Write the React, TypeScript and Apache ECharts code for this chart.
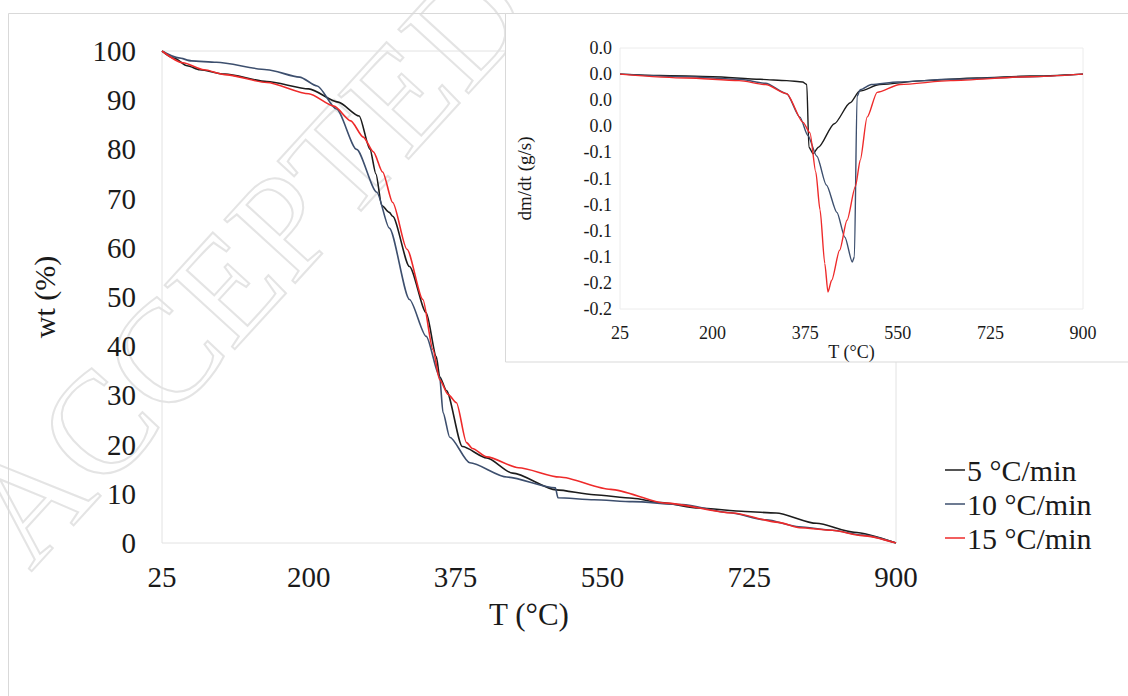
import React, { useEffect, useRef } from "react";
import * as echarts from "echarts";

// ---------- Data ----------
const X_TICKS = [25, 200, 375, 550, 725, 900];
const Y_TICKS = [0, 10, 20, 30, 40, 50, 60, 70, 80, 90, 100];
const INSET_Y_TICKS = [-0.18, -0.16, -0.14, -0.12, -0.1, -0.08, -0.06, -0.04, -0.02, 0, 0.02];

const SERIES_NAMES = ["5 °C/min", "10 °C/min", "15 °C/min"];

// TGA (wt %)
const T5 = [25, 40, 55, 70, 100, 150, 200, 235, 260, 273, 280, 287, 296, 300, 320, 340, 352, 356, 364, 383, 412, 443, 495, 540, 586, 620, 665, 720, 757, 805, 850, 900];
const W5 = [100, 98.5, 97, 96.2, 95.3, 93.8, 92.3, 89.6, 86.8, 80, 75, 68.6, 67.2, 66.4, 56.2, 46.8, 37.9, 33.8, 31, 19.6, 17.3, 14.2, 10.8, 9.8, 9.1, 8.2, 7.1, 6.4, 6.1, 4.0, 2.2, 0];

const T10 = [25, 45, 60, 90, 150, 189, 210, 233, 257, 281, 296, 320, 340, 356, 360, 368, 392, 436, 494, 497, 540, 586, 645, 700, 745, 784, 824, 860, 900];
const W10 = [100, 98.6, 98, 97.7, 96.2, 94.7, 92.9, 88.2, 80, 71.3, 64, 49.5, 42, 33.8, 26.5, 21.5, 16.3, 13.4, 11.2, 9.2, 8.8, 8.4, 7.8, 6.2, 4.7, 3.3, 2.6, 1.6, 0];

const T15 = [25, 50, 75, 100, 150, 200, 230, 250, 265, 277, 288, 300, 317, 336, 348, 356, 366, 376, 388, 395, 412, 450, 499, 560, 626, 705, 760, 785, 824, 860, 900];
const W15 = [100, 97.6, 96.2, 95.2, 93.6, 91.3, 88.8, 85.8, 82.5, 79.5, 75.4, 69.2, 59.7, 49.5, 39.3, 33.2, 30.2, 28.5, 20.4, 19.2, 17.5, 15.3, 13.4, 10.9, 8.1, 6.1, 4.2, 3.1, 2.6, 1.5, 0];

// DTG (dm/dt, g/s)
const DT5 = [25, 100, 200, 290, 340, 370, 378, 382, 390, 400, 430, 460, 478, 516, 600, 700, 800, 900];
const DV5 = [0, -0.001, -0.002, -0.004, -0.005, -0.006, -0.008, -0.056, -0.061, -0.056, -0.038, -0.022, -0.013, -0.008, -0.005, -0.003, -0.0015, 0];

const DT10 = [25, 150, 250, 300, 340, 365, 380, 397, 415, 435, 450, 464, 468, 473, 479, 500, 550, 650, 800, 900];
const DV10 = [0, -0.002, -0.004, -0.007, -0.015, -0.033, -0.047, -0.063, -0.085, -0.106, -0.125, -0.144, -0.14, -0.017, -0.012, -0.008, -0.006, -0.004, -0.002, 0];

const DT15 = [25, 150, 250, 300, 340, 371, 384, 395, 403, 412, 418, 425, 440, 454, 470, 479, 492, 511, 554, 650, 800, 900];
const DV15 = [0, -0.003, -0.005, -0.008, -0.015, -0.037, -0.045, -0.075, -0.104, -0.145, -0.167, -0.158, -0.135, -0.112, -0.086, -0.066, -0.033, -0.014, -0.008, -0.005, -0.002, 0];

const COLORS = ["#1c1c1c", "#3d4f6e", "#ee2a2a"];
const FONT = "Liberation Serif";

const pairs = (xs: number[], ys: number[]) => xs.map((x, i) => [x, ys[i]]);

function fmtInset(v: number) {
  let s = v.toFixed(1);
  if (s === "-0.0") s = "0.0";
  return s;
}

export default function App() {
  const ref = useRef<HTMLDivElement>(null);

  useEffect(() => {
    document.body.style.margin = "0";
    const chart = echarts.init(ref.current!, null, { renderer: "svg" });

    const mainLine = (name: string, data: number[][], color: string) => ({
      name,
      type: "line",
      xAxisIndex: 0,
      yAxisIndex: 0,
      data,
      showSymbol: false,
      smooth: 0.25,
      smoothMonotone: "x",
      lineStyle: { color, width: 1.6 },
      itemStyle: { color },
      z: 2,
    });
    const insetLine = (name: string, data: number[][], color: string) => ({
      name,
      type: "line",
      xAxisIndex: 1,
      yAxisIndex: 1,
      data,
      showSymbol: false,
      smooth: 0.25,
      smoothMonotone: "x",
      lineStyle: { color, width: 1.4 },
      itemStyle: { color },
      z: 5,
    });

    const option: any = {
      animation: false,
      backgroundColor: "#ffffff",
      textStyle: { fontFamily: FONT },
      graphic: [
        {
          type: "text",
          x: 48,
          y: 588,
          rotation: 0.83,
          z: -1,
          silent: true,
          style: {
            text: "ACCEPTED",
            font: "145px 'Liberation Serif'",
            fill: "rgba(0,0,0,0)",
            stroke: "#e4e4e4",
            lineWidth: 2,
            textVerticalAlign: "bottom",
          },
        },
        {
          type: "rect",
          z: 0,
          silent: true,
          shape: { x: 8.5, y: 13.5, width: 1140, height: 720 },
          style: { fill: "none", stroke: "#d9d9d9", lineWidth: 1 },
        },
        {
          type: "rect",
          z: 2,
          silent: true,
          shape: { x: 505.5, y: 13.5, width: 660, height: 348.5 },
          style: { fill: "#ffffff", stroke: "#d9d9d9", lineWidth: 1 },
        },
      ],
      legend: {
        data: SERIES_NAMES,
        orient: "vertical",
        left: 940,
        top: 450,
        icon: "rect",
        itemWidth: 20,
        itemHeight: 1.5,
        itemGap: 4,
        textStyle: { fontFamily: FONT, fontSize: 30, color: "#1a1a1a", padding: [0, 0, 0, -3] },
      },
      grid: [
        { left: 162, top: 51, width: 734, height: 492, show: true, borderColor: "#e2e2e2", borderWidth: 1, z: 0 },
        { left: 620, top: 48, width: 463, height: 261, show: true, borderColor: "#ececec", borderWidth: 1, z: 3 },
      ],
      xAxis: [
        {
          type: "value",
          gridIndex: 0,
          min: 25,
          max: 900,
          axisLine: { show: false },
          axisTick: { show: false },
          splitLine: { show: false },
          axisLabel: { customValues: X_TICKS, fontFamily: FONT, fontSize: 29, color: "#1a1a1a", margin: 19 },
          name: "T (°C)",
          nameLocation: "middle",
          nameGap: 56,
          nameTextStyle: { fontFamily: FONT, fontSize: 31, color: "#1a1a1a" },
        },
        {
          type: "value",
          gridIndex: 1,
          min: 25,
          max: 900,
          z: 3,
          axisLine: { show: false },
          axisTick: { show: false },
          splitLine: { show: false },
          axisLabel: { customValues: X_TICKS, fontFamily: FONT, fontSize: 18, color: "#1a1a1a", margin: 15 },
          name: "T (°C)",
          nameLocation: "middle",
          nameGap: 34,
          nameTextStyle: { fontFamily: FONT, fontSize: 18, color: "#1a1a1a" },
        },
      ],
      yAxis: [
        {
          type: "value",
          gridIndex: 0,
          min: 0,
          max: 100,
          interval: 10,
          axisLine: { show: false },
          axisTick: { show: false },
          splitLine: { show: false },
          axisLabel: { customValues: Y_TICKS, fontFamily: FONT, fontSize: 29, color: "#1a1a1a", margin: 26 },
          name: "wt (%)",
          nameLocation: "middle",
          nameGap: 103,
          nameTextStyle: { fontFamily: FONT, fontSize: 30, color: "#1a1a1a" },
        },
        {
          type: "value",
          gridIndex: 1,
          min: -0.18,
          max: 0.02,
          interval: 0.02,
          z: 3,
          axisLine: { show: false },
          axisTick: { show: false },
          splitLine: { show: false },
          axisLabel: {
            customValues: INSET_Y_TICKS,
            fontFamily: FONT,
            fontSize: 18,
            color: "#1a1a1a",
            margin: 8,
            formatter: (v: number) => fmtInset(v),
          },
          name: "dm/dt (g/s)",
          nameLocation: "middle",
          nameGap: 86,
          nameTextStyle: { fontFamily: FONT, fontSize: 19, color: "#1a1a1a" },
        },
      ],
      series: [
        mainLine(SERIES_NAMES[0], pairs(T5, W5), COLORS[0]),
        mainLine(SERIES_NAMES[1], pairs(T10, W10), COLORS[1]),
        mainLine(SERIES_NAMES[2], pairs(T15, W15), COLORS[2]),
        insetLine(SERIES_NAMES[0], pairs(DT5, DV5), COLORS[0]),
        insetLine(SERIES_NAMES[1], pairs(DT10, DV10), COLORS[1]),
        insetLine(SERIES_NAMES[2], pairs(DT15, DV15), COLORS[2]),
      ],
    };

    chart.setOption(option);
    return () => chart.dispose();
  }, []);

  return <div ref={ref} style={{ width: 1128, height: 696 }} />;
}
